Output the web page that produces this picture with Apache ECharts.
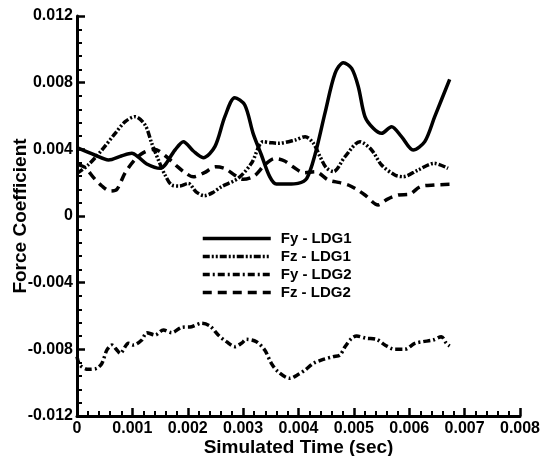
<!DOCTYPE html>
<html>
<head>
<meta charset="utf-8">
<script src="https://cdn.jsdelivr.net/npm/echarts@6/dist/echarts.min.js"></script>
<style>
  html, body { margin: 0; padding: 0; background: #fff; }
  #chart { width: 541px; height: 456px; }
</style>
</head>
<body>
<div id="chart"></div>
<script>
// series names
var seriesNames = ['Fy - LDG1', 'Fz - LDG1', 'Fy - LDG2', 'Fz - LDG2']

// Fy - LDG1 (solid)
var fyLdg1Time = [0, 0.00032, 0.00057, 0.0008, 0.00099, 0.00112, 0.00126, 0.0015, 0.00177, 0.00192,
  0.0021, 0.00228, 0.00249, 0.00267, 0.00285, 0.00303, 0.00318, 0.00333, 0.00348, 0.0036,
  0.00381, 0.00399, 0.00415, 0.0043, 0.00448, 0.00466, 0.00481, 0.00496, 0.00508, 0.0052,
  0.00535, 0.0055, 0.00568, 0.00586, 0.00607, 0.00628, 0.00646, 0.00673]
var fyLdg1Value = [0.0041, 0.00366, 0.00336, 0.0036, 0.00376, 0.0035, 0.00312, 0.00286, 0.00396, 0.00446,
  0.0039, 0.0035, 0.00416, 0.00596, 0.0071, 0.00666, 0.00496, 0.00366, 0.00236, 0.00192,
  0.00192, 0.00196, 0.00226, 0.0037, 0.0062, 0.00856, 0.0092, 0.00886, 0.00776, 0.00596,
  0.00526, 0.00496, 0.00536, 0.00476, 0.00396, 0.00446, 0.00596, 0.0082]

// Fz - LDG1 (dash dot dot)
var fzLdg1Time = [0, 0.0002, 0.00045, 0.00069, 0.00087, 0.00105, 0.00123, 0.00135, 0.00147, 0.00159,
  0.00171, 0.00185, 0.00201, 0.00215, 0.0023, 0.00245, 0.00261, 0.00291, 0.00315, 0.00336,
  0.0035, 0.00363, 0.00394, 0.00412, 0.00427, 0.00439, 0.0045, 0.00463, 0.00484, 0.00511,
  0.00532, 0.0055, 0.00574, 0.00589, 0.00616, 0.00645, 0.0067]
var fzLdg1Value = [0.00256, 0.00306, 0.00396, 0.00496, 0.00566, 0.00596, 0.00546, 0.00436, 0.00336, 0.00246,
  0.00186, 0.0018, 0.00196, 0.00145, 0.00122, 0.0014, 0.00176, 0.00226, 0.00316, 0.00446,
  0.0044, 0.00436, 0.00456, 0.00476, 0.00436, 0.00356, 0.0029, 0.00266, 0.00356, 0.00446,
  0.00396, 0.00306, 0.00246, 0.00236, 0.00276, 0.00316, 0.00286]

// Fy - LDG2 (dash dot)
var fyLdg2Time = [0, 0.00005, 0.0002, 0.00036, 0.00045, 0.00054, 0.00063, 0.00072, 0.00078, 0.00093,
  0.00102, 0.00117, 0.00126, 0.00141, 0.00156, 0.00171, 0.00189, 0.00207, 0.00225, 0.0024,
  0.00255, 0.0027, 0.00285, 0.00297, 0.00306, 0.00324, 0.00339, 0.00351, 0.00363, 0.00384,
  0.004, 0.00412, 0.00427, 0.00445, 0.00463, 0.00475, 0.00484, 0.00496, 0.00505, 0.00523,
  0.00541, 0.00556, 0.00574, 0.00592, 0.0061, 0.00625, 0.00643, 0.00658, 0.00667, 0.00673]
var fyLdg2Value = [-0.00844, -0.00894, -0.0092, -0.00914, -0.00884, -0.00804, -0.00774, -0.00804, -0.00824, -0.00764,
  -0.00774, -0.00744, -0.007, -0.00714, -0.00684, -0.007, -0.00668, -0.00664, -0.00644, -0.0066,
  -0.00714, -0.00754, -0.00784, -0.00764, -0.0074, -0.00754, -0.00804, -0.00884, -0.00934, -0.00974,
  -0.0095, -0.00924, -0.00884, -0.0086, -0.00844, -0.00834, -0.00784, -0.00734, -0.0072, -0.00734,
  -0.0074, -0.00774, -0.008, -0.008, -0.00764, -0.00754, -0.00744, -0.00724, -0.00764, -0.0078]

// Fz - LDG2 (dashed)
var fzLdg2Time = [0, 0.00015, 0.0003, 0.00045, 0.0006, 0.00072, 0.00087, 0.00105, 0.0012, 0.0014,
  0.0016, 0.0018, 0.00195, 0.0021, 0.0023, 0.0025, 0.00267, 0.00285, 0.003, 0.0032,
  0.0034, 0.00357, 0.00375, 0.0039, 0.0041, 0.0043, 0.00454, 0.00475, 0.0049, 0.00505,
  0.0052, 0.00544, 0.0056, 0.0058, 0.006, 0.0062, 0.00646, 0.00673]
var fzLdg2Value = [0.0031, 0.0029, 0.0023, 0.0018, 0.0015, 0.0016, 0.0026, 0.0034, 0.0038, 0.004,
  0.0036, 0.003, 0.0026, 0.00235, 0.0026, 0.00295, 0.00285, 0.00245, 0.0022, 0.0024,
  0.0031, 0.00345, 0.0033, 0.00295, 0.0026, 0.00266, 0.00216, 0.002, 0.00186, 0.0016,
  0.00126, 0.00066, 0.001, 0.00126, 0.0013, 0.00176, 0.00186, 0.0019]

var fnt = "'Liberation Sans', Arial, Helvetica, sans-serif"

function pairs(ts, vs) {
    return ts.map((t, i) => [t, vs[i]])
}

function line(name, ts, vs, dash) {
    return {
        type: 'line',
        name: name,
        data: pairs(ts, vs),
        smooth: 0.3,
        symbol: 'none',
        lineStyle: { color: '#000', width: 3.5, type: dash },
        itemStyle: { color: '#000' }
    }
}

var fmt = v => v === 0 ? '0' : v.toFixed(3)

var chart = echarts.init(document.getElementById('chart'))
chart.setOption({
    animation: false,
    grid: { left: 77, right: 21, top: 16, bottom: 40, outerBoundsMode: 'none' },
    legend: {
        data: seriesNames,
        orient: 'vertical',
        left: 201,
        top: 231,
        padding: 0,
        itemWidth: 68,
        itemHeight: 12,
        itemGap: 3,
        itemStyle: { opacity: 0 },
        lineStyle: { width: 3.5 },
        textStyle: { fontFamily: fnt, fontWeight: 'bold', fontSize: 15, color: '#000', padding: [0, 0, 0, 5] }
    },
    xAxis: {
        type: 'value',
        min: 0,
        max: 0.008,
        interval: 0.001,
        name: 'Simulated Time (sec)',
        nameLocation: 'middle',
        nameGap: 22,
        nameMoveOverlap: false,
        nameTextStyle: { fontFamily: fnt, fontWeight: 'bold', fontSize: 19, color: '#000' },
        axisLine: { onZero: false, lineStyle: { color: '#000', width: 3 } },
        axisTick: { inside: true, length: 8, lineStyle: { width: 2.5 } },
        minorTick: { show: true, splitNumber: 5, length: 5, lineStyle: { color: '#000', width: 2 } },
        splitLine: { show: false },
        axisLabel: { fontFamily: fnt, fontSize: 16, fontWeight: 'bold', color: '#000', margin: 5, formatter: fmt }
    },
    yAxis: {
        type: 'value',
        min: -0.012,
        max: 0.012,
        interval: 0.004,
        name: 'Force Coefficient',
        nameLocation: 'middle',
        nameGap: 47,
        nameMoveOverlap: false,
        nameTextStyle: { fontFamily: fnt, fontWeight: 'bold', fontSize: 19, color: '#000' },
        axisLine: { show: true, onZero: false, lineStyle: { color: '#000', width: 3 } },
        axisTick: { show: true, inside: true, length: 8, lineStyle: { width: 2.5 } },
        minorTick: { show: true, splitNumber: 5, length: 5, lineStyle: { color: '#000', width: 2 } },
        splitLine: { show: false },
        axisLabel: { fontFamily: fnt, fontSize: 16, fontWeight: 'bold', color: '#000', margin: 4, formatter: fmt }
    },
    series: [
        line(seriesNames[0], fyLdg1Time, fyLdg1Value, 'solid'),
        line(seriesNames[1], fzLdg1Time, fzLdg1Value, [7, 2, 2, 2, 2, 2]),
        line(seriesNames[2], fyLdg2Time, fyLdg2Value, [7, 3, 2, 3]),
        line(seriesNames[3], fzLdg2Time, fzLdg2Value, [9, 6])
    ]
})
</script>
</body>
</html>
